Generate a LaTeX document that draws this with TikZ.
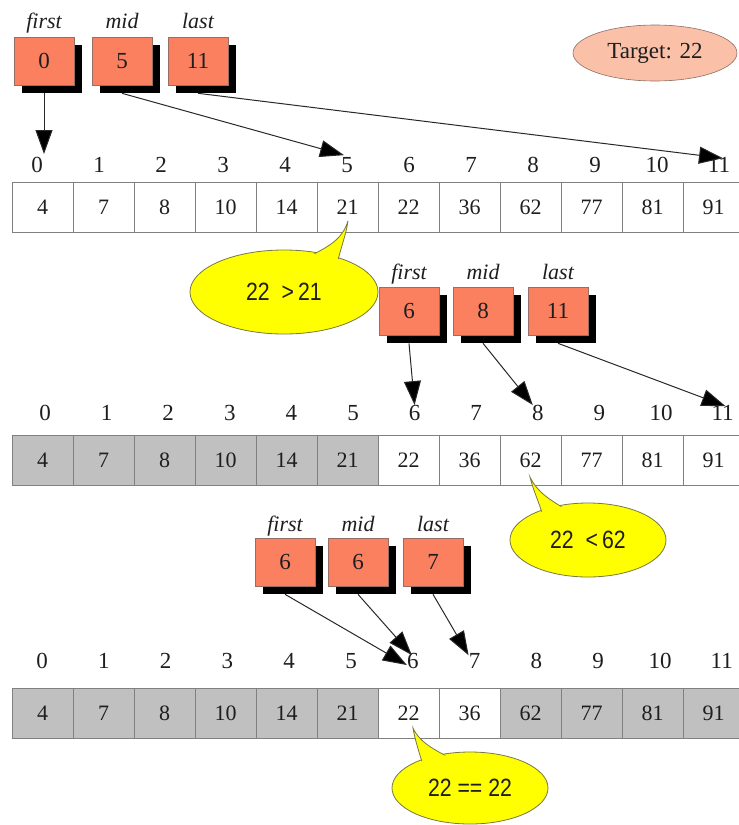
\documentclass[tikz,border=0pt]{standalone}
\usepackage{fontspec}
\setmainfont{Liberation Serif}
\newfontfamily\calfont[FakeStretch=0.85]{Liberation Sans}
\usetikzlibrary{arrows.meta,shapes.geometric,shadows,calc}
\definecolor{boxfill}{RGB}{250,128,96}
\definecolor{boxline}{RGB}{150,110,100}
\definecolor{tgtfill}{RGB}{251,192,168}
\definecolor{tgtline}{RGB}{140,110,100}
\definecolor{calfill}{RGB}{255,255,0}
\definecolor{calline}{RGB}{120,120,70}
\definecolor{cellline}{RGB}{128,128,128}
\definecolor{cellgray}{RGB}{192,192,192}
\definecolor{ink}{RGB}{30,30,30}
\definecolor{arrline}{RGB}{40,40,40}
\begin{document}
\begin{tikzpicture}[x=1pt,y=-1pt,
  every node/.style={text=ink},
  cell/.style={draw=cellline, line width=0.8pt, minimum width=61pt, minimum height=50pt, inner sep=0pt, font=\fontsize{22}{25}\selectfont},
  idx/.style={inner sep=1pt, font=\fontsize{23}{26}\selectfont},
  ptr/.style={draw=boxline, line width=0.6pt, fill=boxfill, minimum width=60pt, minimum height=48pt, inner sep=0pt,
     font=\fontsize{23}{26}\selectfont,
     general shadow={fill=black, shadow xshift=8pt, shadow yshift=-8pt}},
  plab/.style={inner sep=0pt, anchor=base, font=\fontsize{22}{25}\selectfont\itshape},
  ptrarrow/.style={draw=arrline, line width=1pt, -{Triangle[length=24pt,width=17pt,fill=black]}},
  calout/.style={ellipse, draw=calline, line width=0.8pt, fill=calfill, inner sep=0pt},
  calin/.style={ellipse, fill=calfill, inner sep=0pt, font=\calfont\fontsize{25}{28}\selectfont},
  tail/.style={draw=calline, line width=0.8pt, fill=calfill}
]
\useasboundingbox (0,0) rectangle (739,825);

% ---------- Target ----------
\node[ellipse, draw=tgtline, line width=0.6pt, fill=tgtfill, minimum width=164pt, minimum height=56pt, inner sep=0pt,
      font=\fontsize{23}{26}\selectfont] (tgt) at (655,53) {Target: 22};

% ---------- Array 1 ----------
\foreach \v [count=\i from 0] in {4,7,8,10,14,21,22,36,62,77,81,91} {
  \node[cell] (a1-\i) at ({42.5+61*\i},207) {\v};
}
\foreach \i in {0,...,11} { \node[idx] (l1-\i) at ({37+62*\i},165) {\i}; }

% ---------- Array 2 ----------
\foreach \v [count=\i from 0] in {4,7,8,10,14,21,22,36,62,77,81,91} {
  \ifnum\i<6 \def\cf{cellgray}\else\def\cf{white}\fi
  \node[cell, fill=\cf] (a2-\i) at ({42.5+61*\i},460) {\v};
}
\foreach \i in {0,...,11} { \node[idx] (l2-\i) at ({45+61.6*\i},413) {\i}; }

% ---------- Array 3 ----------
\foreach \v [count=\i from 0] in {4,7,8,10,14,21,22,36,62,77,81,91} {
  \def\cf{cellgray}
  \ifnum\i=6 \def\cf{white}\fi
  \ifnum\i=7 \def\cf{white}\fi
  \node[cell, fill=\cf] (a3-\i) at ({42.5+61*\i},713) {\v};
}
\foreach \i in {0,...,11} { \node[idx] (l3-\i) at ({42+61.8*\i},661) {\i}; }

% ---------- Pointer set 1 ----------
\node[ptr] (p1f) at (44,61) {0};
\node[ptr] (p1m) at (122,61) {5};
\node[ptr] (p1l) at (198,61) {11};
\node[plab] (p1fl) at ([yshift=8pt]p1f.north) {first};
\node[plab] (p1ml) at ([yshift=8pt]p1m.north) {mid};
\node[plab] (p1ll) at ([yshift=8pt]p1l.north) {last};
\draw[ptrarrow] ([yshift=-8pt]p1f.south) -- ([xshift=7pt,yshift=2pt]l1-0.north);
\draw[ptrarrow] ([yshift=-8pt]p1m.south) -- ([xshift=-3pt,yshift=1pt]l1-5.north);
\draw[ptrarrow] ([yshift=-8pt]p1l.south) -- ([xshift=4pt,yshift=-2pt]l1-11.north);

% ---------- Pointer set 2 ----------
\node[ptr] (p2f) at (409,311) {6};
\node[ptr] (p2m) at (483,311) {8};
\node[ptr] (p2l) at (558,311) {11};
\node[plab] (p2fl) at ([yshift=7pt]p2f.north) {first};
\node[plab] (p2ml) at ([yshift=7pt]p2m.north) {mid};
\node[plab] (p2ll) at ([yshift=7pt]p2l.north) {last};
\draw[ptrarrow] ([yshift=-8pt]p2f.south) -- ([yshift=-1pt]l2-6.north);
\draw[ptrarrow] ([yshift=-8pt]p2m.south) -- ([xshift=-5pt,yshift=-1pt]l2-8.north);
\draw[ptrarrow] ([yshift=-8pt]p2l.south) -- ([xshift=3pt,yshift=-2pt]l2-11.north);

% ---------- Pointer set 3 ----------
\node[ptr] (p3f) at (285,562) {6};
\node[ptr] (p3m) at (358,562) {6};
\node[ptr] (p3l) at (433,562) {7};
\node[plab] (p3fl) at ([yshift=6pt]p3f.north) {first};
\node[plab] (p3ml) at ([yshift=6pt]p3m.north) {mid};
\node[plab] (p3ll) at ([yshift=6pt]p3l.north) {last};
\draw[ptrarrow] ([yshift=-8pt]p3f.south) -- ([xshift=1pt,yshift=-4pt]l3-6.west);
\draw[ptrarrow] ([yshift=-8pt]p3m.south) -- ([xshift=-1pt,yshift=-3pt]l3-6.north);
\draw[ptrarrow] ([yshift=-8pt]p3l.south) -- ([xshift=-6pt,yshift=-3pt]l3-7.north);

% ---------- Callout 1 ----------
\node[calout, minimum width=188pt, minimum height=84pt] (c1) at (284,292) {};
\path[tail] (306,258) .. controls (328,247) and (342,240) .. (348,221)
            .. controls (346,235) and (341,247) .. (337,264) -- cycle;
\node[calin, minimum width=185pt, minimum height=81pt] (c1t) at (c1.center) {22 \ >\,21};

% ---------- Callout 2 ----------
\node[calout, minimum width=156pt, minimum height=74pt] (c2) at (588,540) {};
\path[tail] (543,516) .. controls (539,502) and (533,490) .. (530,477)
            .. controls (537,492) and (550,500) .. (567,510) -- cycle;
\node[calin, minimum width=153pt, minimum height=71pt] (c2t) at (c2.center) {22 \ <\,62};

% ---------- Callout 3 ----------
\node[calout, minimum width=156pt, minimum height=72pt] (c3) at (470,788) {};
\path[tail] (423,765) .. controls (419,752) and (415,740) .. (413,728)
            .. controls (420,743) and (435,750) .. (452,759) -- cycle;
\node[calin, minimum width=153pt, minimum height=69pt] (c3t) at (c3.center) {22 == 22};
\end{tikzpicture}
\end{document}
